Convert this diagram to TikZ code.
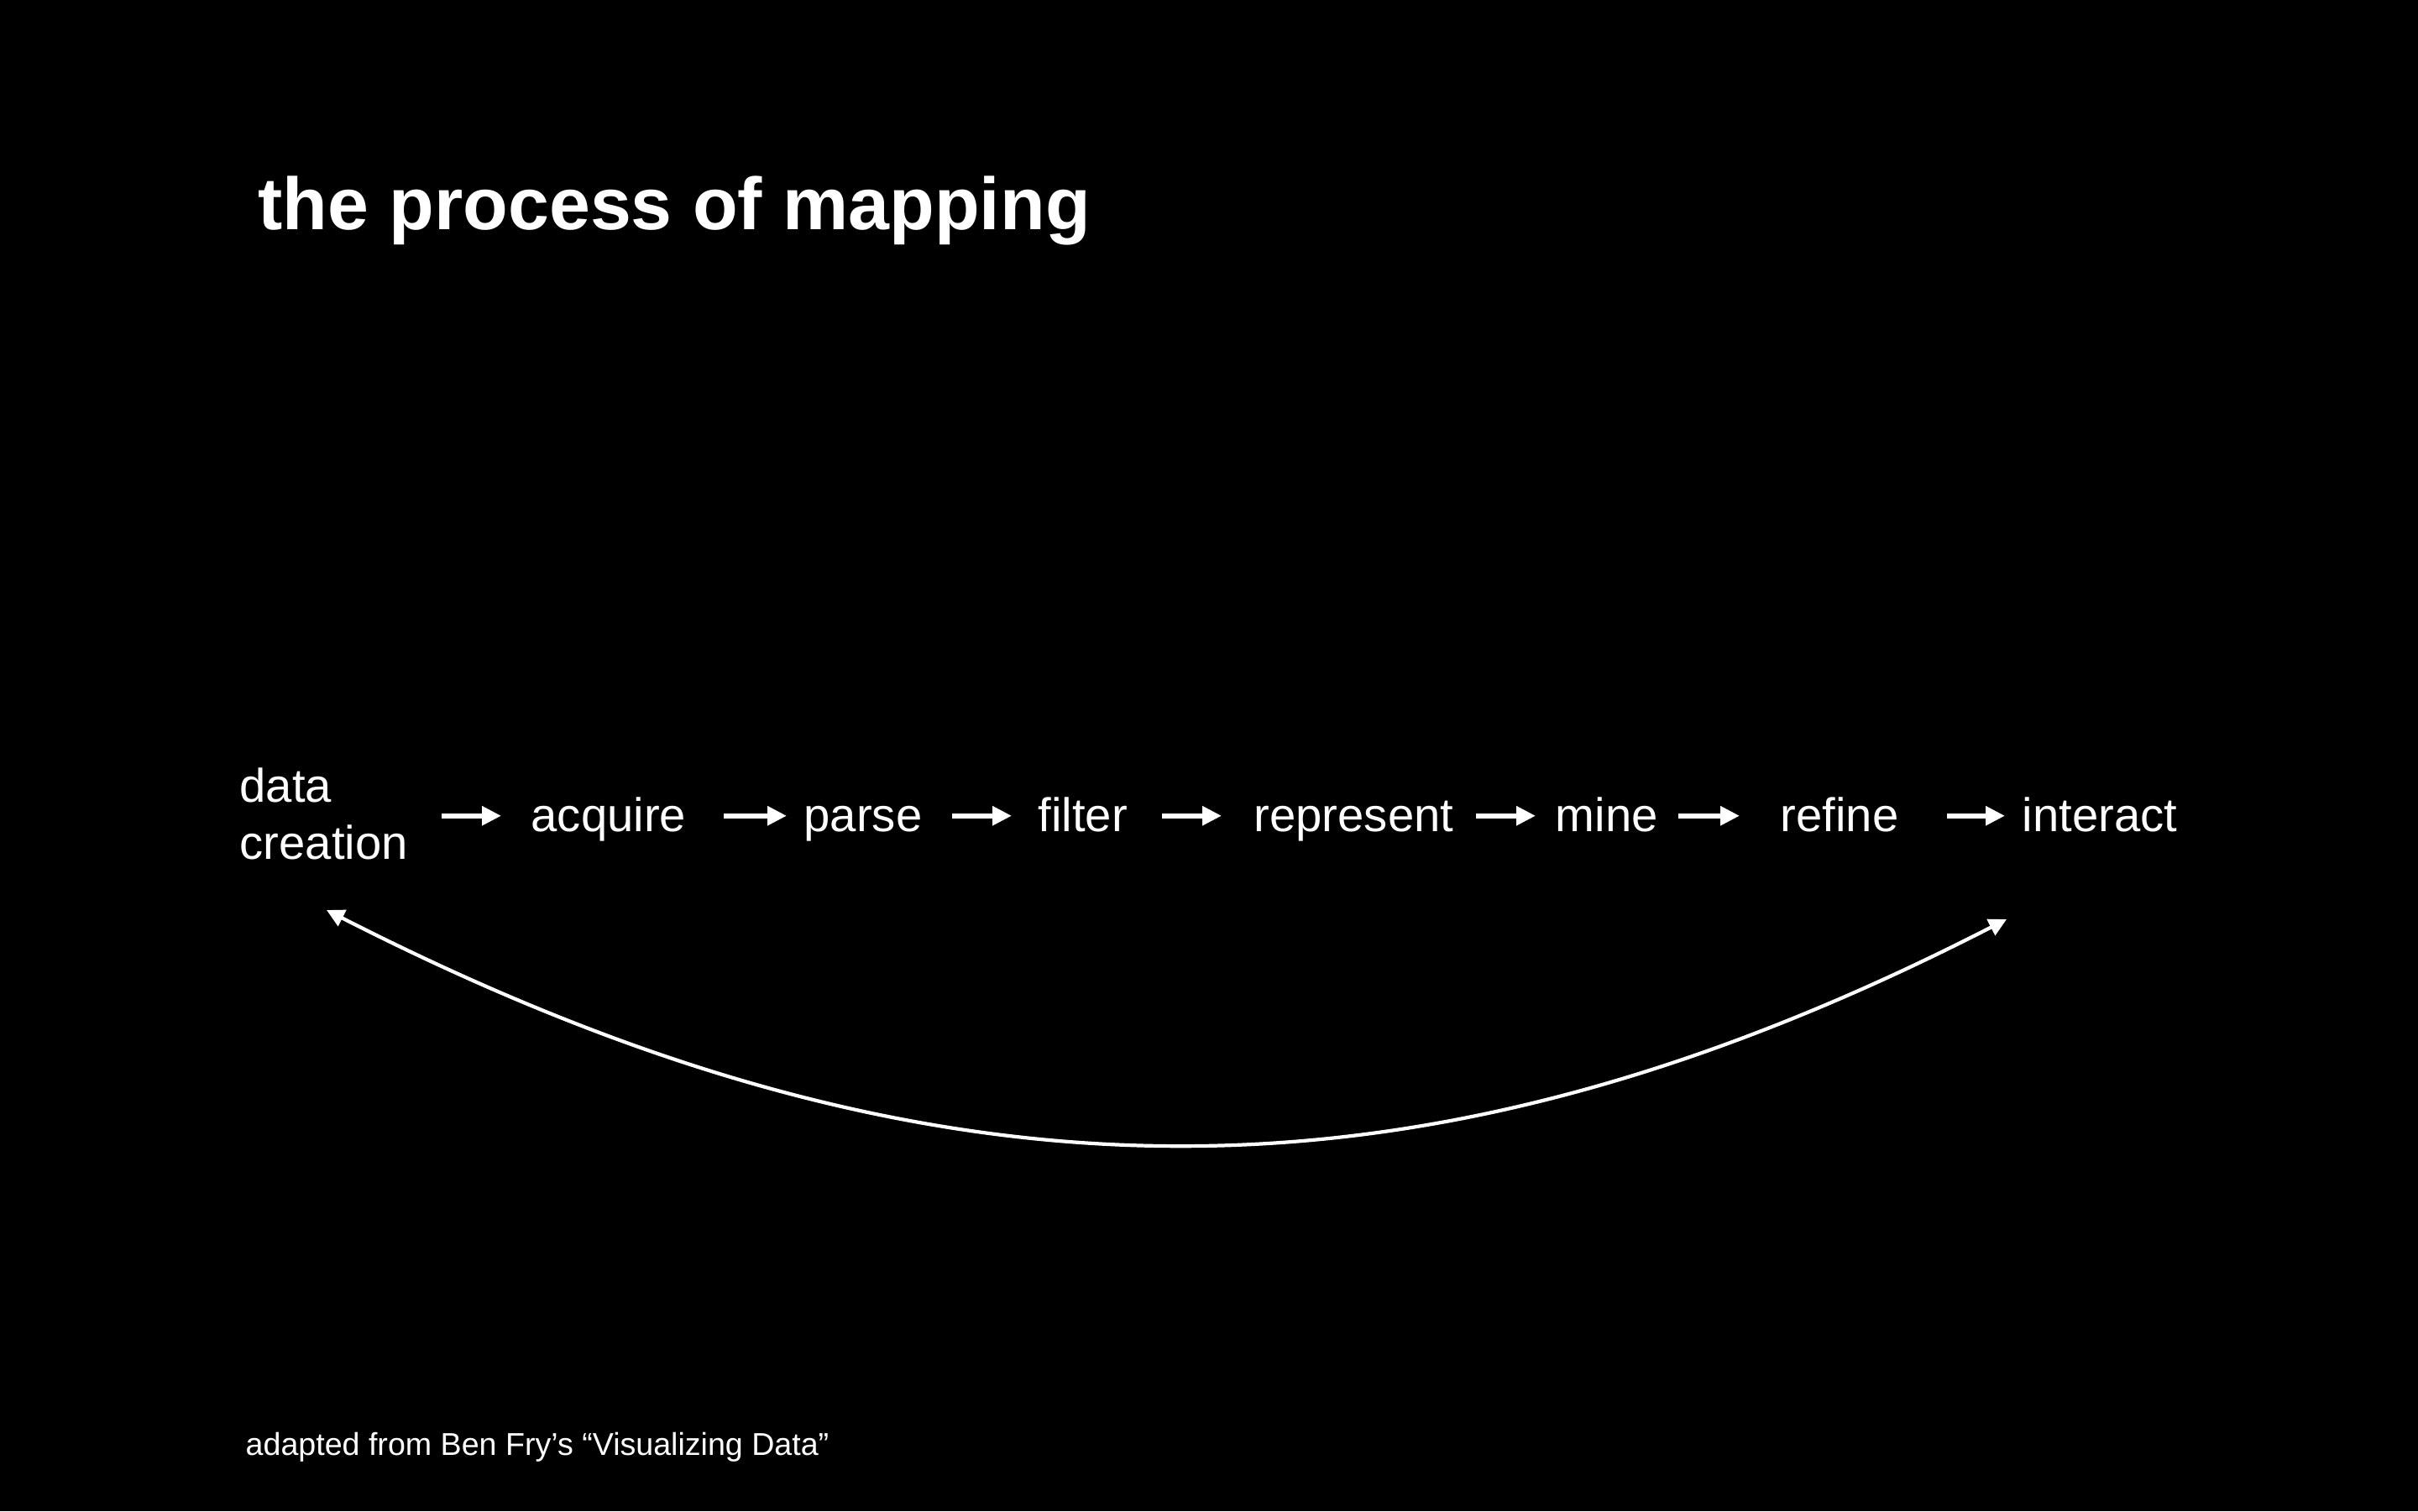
\documentclass[tikz,border=0pt]{standalone}
\usepackage{fontspec}
\setmainfont{Liberation Sans}
\usetikzlibrary{arrows.meta}

\begin{document}
\begin{tikzpicture}[
    stage/.style={anchor=base west, inner sep=0pt, text=white, font=\fontsize{16}{19.3}\selectfont},
    flow/.style={white, line width=1.7pt, -{Triangle[length=2.3mm, width=2.2mm]}, transform canvas={yshift=0.9mm}},
    feedback/.style={white, line width=1.2pt, {Triangle[length=2.1mm, width=2.1mm]}-{Triangle[length=2.1mm, width=2.1mm]}}
    ]

		\fill[black] (0,0) rectangle (28.8,-18);

		\node[anchor=base west, inner sep=0pt, text=white, font=\bfseries\fontsize{25}{30}\selectfont] (title) at (3.07, -2.73) {the process of mapping};

		\node[stage, anchor=south west, align=left] (dc) at (2.85, -10.25) {data\\creation};

		\foreach \x / \y in {6.32/acquire, 9.57/parse, 12.36/filter, 14.93/represent, 18.52/mine, 21.20/refine, 24.08/interact} {
		\node[stage] (\y) at (\x, -9.90) {\y};
		}

		\draw[flow, shorten <=4.0mm, shorten >=3.5mm] (dc.east |- acquire.mid) -- (acquire.mid west);

		\foreach \a / \b / \s / \e in {acquire/parse/4.4/2.0, parse/filter/3.5/3.1, filter/represent/4.0/3.8, represent/mine/2.6/2.3, mine/refine/2.4/4.8, refine/interact/5.7/2.0} {
		\draw[flow, shorten <=\s mm, shorten >=\e mm] (\a.mid east) -- (\b.mid west);
		}

		\coordinate (back-out) at (3.89, -10.84);
		\coordinate (back-in) at (23.90, -10.95);
		\draw[feedback] (back-out) .. controls (11.14, -14.54) and (16.90, -14.54) .. (back-in);

		\node[anchor=base west, inner sep=0pt, text=white, font=\fontsize{10.7}{13}\selectfont] (credit) at (2.92, -17.33) {adapted from Ben Fry’s “Visualizing Data”};

	\end{tikzpicture}
\end{document}
